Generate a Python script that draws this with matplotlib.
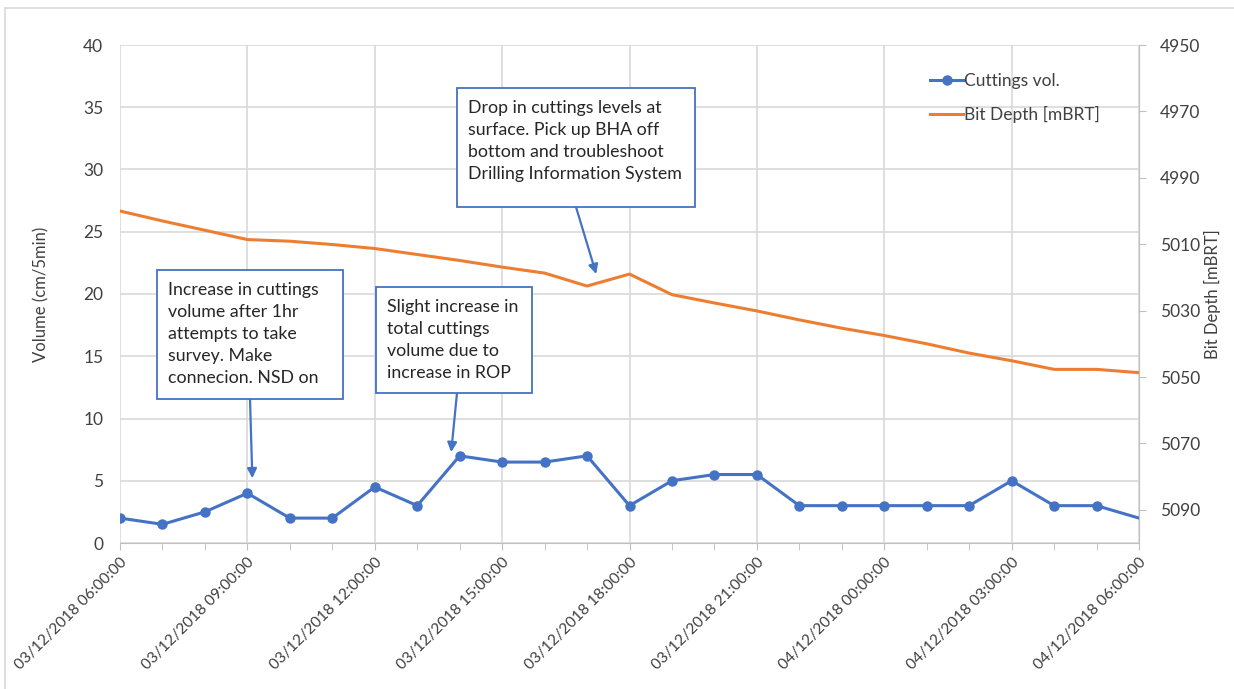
import numpy as np
import pandas as pd
import matplotlib
matplotlib.use('Agg')
import matplotlib.pyplot as plt
import matplotlib.dates as mdates
import matplotlib.transforms as mtransforms
from matplotlib.patches import Rectangle

plt.rcParams['font.family'] = ['Lato', 'DejaVu Sans']

# hourly samples, 03/12/2018 06:00 -> 04/12/2018 06:00
times = pd.date_range('2018-12-03 06:00', '2018-12-04 06:00', freq='h')
cuttings = [2, 1.5, 2.5, 4, 2, 2, 4.5, 3, 7, 6.5, 6.5, 7, 3,
            5, 5.5, 5.5, 3, 3, 3, 3, 3, 5, 3, 3, 2]
bit_depth = [5000, 5003, 5005.8, 5008.6, 5009.1, 5010.1, 5011.3, 5013.1, 5014.9,
             5016.9, 5018.7, 5022.6, 5019, 5025.2, 5027.7, 5030.1, 5032.8,
             5035.3, 5037.5, 5040, 5042.8, 5045.1, 5047.7, 5047.7, 5048.7]

notes = ["Increase in cuttings\nvolume after 1hr\nattempts to take\nsurvey. Make\nconnecion. NSD on",
         "Slight increase in\ntotal cuttings\nvolume due to\nincrease in ROP",
         "Drop in cuttings levels at\nsurface. Pick up BHA off\nbottom and troubleshoot\nDrilling Information System"]

blue = '#4472C4'
orange = '#ED7D31'
grid = '#D9D9D9'
txt = '#404040'

fig = plt.figure(figsize=(12.34, 6.89), dpi=100)
W, H = 1234, 689
ax = fig.add_axes([120 / W, 1 - 543 / H, (1139 - 120) / W, (543 - 45) / H])
ax2 = ax.twinx()

fig.patches.append(Rectangle((5 / W, -0.01), 1.1, 1 - 8 / H + 0.01, transform=fig.transFigure,
                             fill=False, edgecolor='#D9D9D9', lw=1.2))

ax2.plot(times, bit_depth, color=orange, lw=2.2, label='Bit Depth [mBRT]', zorder=3)
ax.plot(times, cuttings, color=blue, lw=2.2, marker='o', ms=6.5,
        markevery=list(range(len(times) - 1)), label='Cuttings vol.', zorder=3)

ax.set_ylim(0, 40)
ax.set_yticks(np.arange(0, 41, 5))
ax2.set_ylim(5100, 4950)
ax2.set_yticks(np.arange(4950, 5091, 20))
ax.set_xlim(times[0], times[-1])

ax.xaxis.set_major_locator(mdates.HourLocator(byhour=[0, 3, 6, 9, 12, 15, 18, 21]))
ax.xaxis.set_minor_locator(mdates.HourLocator())
ax.xaxis.set_major_formatter(mdates.DateFormatter('%d/%m/%Y %H:%M:%S'))
shift = mtransforms.ScaledTranslation(9 / 100, -2 / 100, fig.dpi_scale_trans)
for lab in ax.get_xticklabels():
    lab.set_rotation(45)
    lab.set_ha('right')
    lab.set_rotation_mode('anchor')
    lab.set_transform(lab.get_transform() + shift)

ax.grid(True, which='major', color=grid, lw=1.2)
ax.set_axisbelow(True)
for s in ['top', 'left']:
    ax.spines[s].set_visible(False)
    ax2.spines[s].set_visible(False)
ax.spines['right'].set_visible(False)
ax.spines['bottom'].set_color('#BFBFBF')
ax2.spines['bottom'].set_visible(False)
ax2.spines['right'].set_color('#BFBFBF')

ax.tick_params(axis='y', length=0, labelsize=12.5, labelcolor=txt, pad=12)
ax.tick_params(axis='x', which='both', direction='out', length=5, color='#BFBFBF',
               labelsize=11.2, labelcolor=txt, pad=4)
ax2.tick_params(axis='y', length=5, color='#BFBFBF', labelsize=12.5, labelcolor=txt, pad=10)

ax.set_ylabel('Volume (cm/5min)', fontsize=12, color=txt, labelpad=24)
ax2.set_ylabel('Bit Depth [mBRT]', fontsize=12, color=txt, labelpad=3)

h1, l1 = ax.get_legend_handles_labels()
h2, l2 = ax2.get_legend_handles_labels()
ax2.legend(h1 + h2, l1 + l2, loc='upper left', bbox_to_anchor=(0.78, 0.975),
           frameon=False, fontsize=12.5, handlelength=1.85, handletextpad=0.1,
           labelspacing=1.0, labelcolor=txt)

arr = dict(arrowstyle='-|>', color=blue, lw=1.6, mutation_scale=14, shrinkA=0, shrinkB=0)


def note(text, xy, box, tail):
    # box = (left, top, right, bottom) in figure pixels from top-left
    x0, y0, x1, y1 = box
    fig.patches.append(Rectangle((x0 / W, 1 - y1 / H), (x1 - x0) / W, (y1 - y0) / H,
                                 transform=fig.transFigure, fc='white', ec=blue,
                                 lw=1.3, zorder=5))
    fig.text((x0 + 11) / W, 1 - (y0 + 12) / H, text, fontsize=12.8, color='#262626',
             va='top', ha='left', linespacing=1.47, zorder=6)
    ax.annotate('', xy=xy, xycoords='data', xytext=(tail[0] / W, 1 - tail[1] / H),
                textcoords='figure fraction', arrowprops=arr, zorder=4)


note(notes[0], (mdates.date2num(times[3]) + 7 / 1440, 5.2), (157, 270, 343, 399), (250, 399))
note(notes[1], (mdates.date2num(times[8]) - 12 / 1440, 7.3), (376, 287, 532, 393), (457, 393))
note(notes[2], (mdates.date2num(times[11]) + 13 / 1440, 21.6), (457, 88, 695, 207), (576, 207))

fig.savefig('out.png', dpi=100)
